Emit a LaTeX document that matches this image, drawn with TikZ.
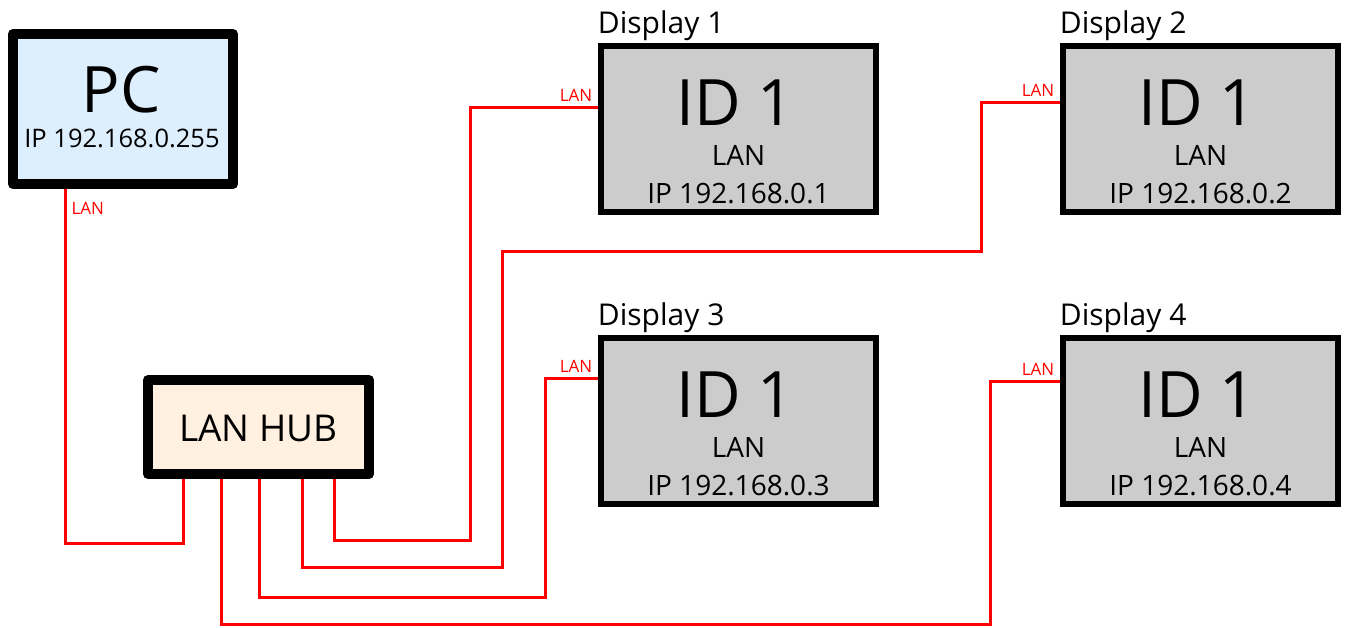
\documentclass[tikz,border=0pt]{standalone}
\usepackage{fontspec}
\setmainfont{Open Sans}
\definecolor{pcfill}{HTML}{DDEEFD}
\definecolor{hubfill}{HTML}{FFF0DF}
\definecolor{dispfill}{HTML}{CCCCCC}
\definecolor{cablered}{HTML}{FF0000}
\begin{document}
\begin{tikzpicture}[x=1pt,y=-1pt,
  pcbox/.style={draw=black, line width=10pt, fill=pcfill, line join=round, minimum width=220pt, minimum height=150pt, inner sep=0pt},
  hubbox/.style={draw=black, line width=10pt, fill=hubfill, line join=round, minimum width=221pt, minimum height=94pt, inner sep=0pt},
  dispbox/.style={draw=black, line width=6.5pt, fill=dispfill, minimum width=275pt, minimum height=166pt, inner sep=0pt},
  cable/.style={draw=cablered, line width=3pt},
  lanlbl/.style={text=cablered, font=\fontsize{17}{18}\selectfont, inner sep=0pt, anchor=base east, xshift=-4pt, yshift=5.5pt},
  bigtxt/.style={font=\fontsize{64}{66}\selectfont, inner sep=0pt, anchor=base},
  midtxt/.style={font=\fontsize{28}{30}\selectfont, inner sep=0pt, anchor=base},
  pciptxt/.style={font=\fontsize{25.5}{27}\selectfont, inner sep=0pt, anchor=base},
  huetxt/.style={font=\fontsize{37}{40}\selectfont, inner sep=0pt, anchor=base},
  titletxt/.style={font=\fontsize{30}{32}\selectfont, inner sep=0pt, anchor=base west}
]
\useasboundingbox (0,0) rectangle (1346,627);

% boxes
\node[pcbox] (pc) at (123,109) {};
\node[hubbox] (hub) at (258.5,427) {};
\node[dispbox] (d1) at (738.5,129) {};
\node[dispbox] (d2) at (1200.5,129) {};
\node[dispbox] (d3) at (738.5,421) {};
\node[dispbox] (d4) at (1200.5,421) {};

% texts
\node[bigtxt] (pct) at ([xshift=-2pt,yshift=-3pt]pc.center) {PC};
\node[pciptxt] (pcip) at ([xshift=-1pt,yshift=-38pt]pc.center) {IP 192.168.0.255};
\node[huetxt] (hubt) at ([yshift=-14pt]hub.center) {LAN HUB};

\foreach \d/\n in {d1/1,d2/2,d3/3,d4/4}{
  \node[bigtxt] (\d id) at ([xshift=-3pt,yshift=4pt]\d.center) {ID 1};
  \node[midtxt] (\d lan) at ([yshift=-36pt]\d.center) {LAN};
  \node[midtxt] (\d ip) at ([yshift=-74pt]\d.center) {IP 192.168.0.\n};
  \node[titletxt] (\d title) at ([xshift=0pt,yshift=9.75pt]\d.north west) {Display \n};
}

% cable bend points
\coordinate (k0) at (65,543);
\coordinate (k1) at (183,543);
\coordinate (a0) at (334,540);
\coordinate (a1) at (470,540);
\coordinate (a2) at (470,107);
\coordinate (b0) at (302,567);
\coordinate (b1) at (502,567);
\coordinate (b2) at (502,251);
\coordinate (b3) at (981,251);
\coordinate (b4) at (981,102);
\coordinate (c0) at (259,597);
\coordinate (c1) at (545,597);
\coordinate (c2) at (545,378);
\coordinate (e0) at (221,624);
\coordinate (e1) at (990,624);
\coordinate (e2) at (990,381);

% cables
\draw[cable] (pc.south -| k0) node[text=cablered, font=\fontsize{17}{18}\selectfont, inner sep=0pt, anchor=base west, xshift=5pt, yshift=-25pt] (pclan) {LAN}
  -- (k0) -- (k1) -- (hub.south -| k1);
\draw[cable] (hub.south -| a0) -- (a0) -- (a1) -- (a2) -- (d1.west |- a2) node[lanlbl] (l1) {LAN};
\draw[cable] (hub.south -| b0) -- (b0) -- (b1) -- (b2) -- (b3) -- (b4) -- (d2.west |- b4) node[lanlbl] (l2) {LAN};
\draw[cable] (hub.south -| c0) -- (c0) -- (c1) -- (c2) -- (d3.west |- c2) node[lanlbl] (l3) {LAN};
\draw[cable] (hub.south -| e0) -- (e0) -- (e1) -- (e2) -- (d4.west |- e2) node[lanlbl] (l4) {LAN};
\end{tikzpicture}
\end{document}
